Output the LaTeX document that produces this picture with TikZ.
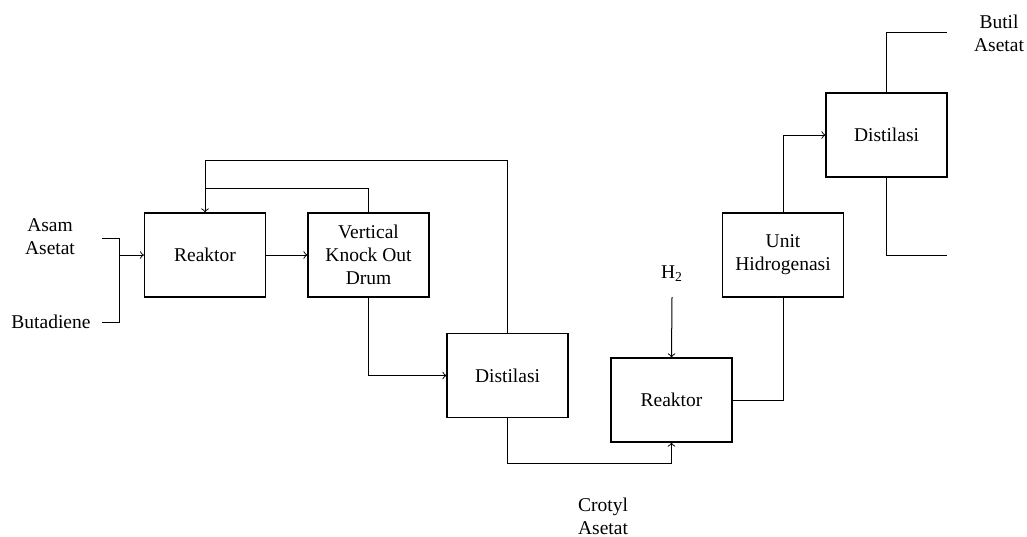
\documentclass[tikz,border=0pt]{standalone}
\usepackage{fontspec}
\setmainfont{Liberation Serif}

\tikzset{
	unit/.style={draw,line width=0.6pt,minimum width=60.5pt,minimum height=42pt,align=center,inner sep=0pt},
	stream/.style={line width=0.5pt},
	label/.style={align=center,inner sep=1pt},
}

\begin{document}
\begin{tikzpicture}[x=0.5pt,y=-0.5pt,font=\fontsize{9.75}{11.5}\selectfont]
		\useasboundingbox (0,0) rectangle (1027,536);
		\node[unit] (R1) at (205,255) {Reaktor};
		\node[unit] (V) at (368.5,255) {Vertical\\Knock Out\\Drum};
		\node[unit] (D1) at (507.5,375.5) {Distilasi};
		\node[unit] (R2) at (671.5,400) {Reaktor};
		\node[unit] (U) at (783,255) {Unit\\Hidrogenasi};
		\node[unit] (D2) at (886.5,135) {Distilasi};
		\node[label] (asam) at (50,237) {Asam\\Asetat};
		\node[label] (buta) at (51,322) {Butadiene};
		\node[label] (h2) at (672,274) {H\textsubscript{2}};
		\node[label] (crotyl) at (603,516) {Crotyl\\Asetat};
		\node[label] (butil) at (999,33) {Butil\\Asetat};
		\coordinate (fa) at (102,238);
		\coordinate (fb) at (102,322);
		\coordinate (fj) at (119,255);
		\coordinate (top1) at (205,160);
		\coordinate (top2) at (205,188);
		\coordinate (h2in) at (672,297);
		\coordinate (out1) at (947,32);
		\coordinate (out2) at (947,255);
		\draw[stream] (fa) -| (fj |- fb) -- (fb);
		\draw[stream,->] (fj) -- (R1.west);
		\draw[stream,->] (R1.east) -- (V.west);
		\draw[stream,->] (D1.north) |- (top1) -- (R1.north);
		\draw[stream] (V.north) |- (top2);
		\draw[stream,->] (V.south) |- (D1.west);
		\draw[stream,->] (D1.south) -- ++(0,45) -| (R2.south);
		\draw[stream,->] (h2in) -- (R2.north);
		\draw[stream] (R2.east) -| (U.south);
		\draw[stream,->] (U.north) |- (D2.west);
		\draw[stream] (D2.north) |- (out1);
		\draw[stream] (D2.south) |- (out2);
	\end{tikzpicture}
\end{document}
